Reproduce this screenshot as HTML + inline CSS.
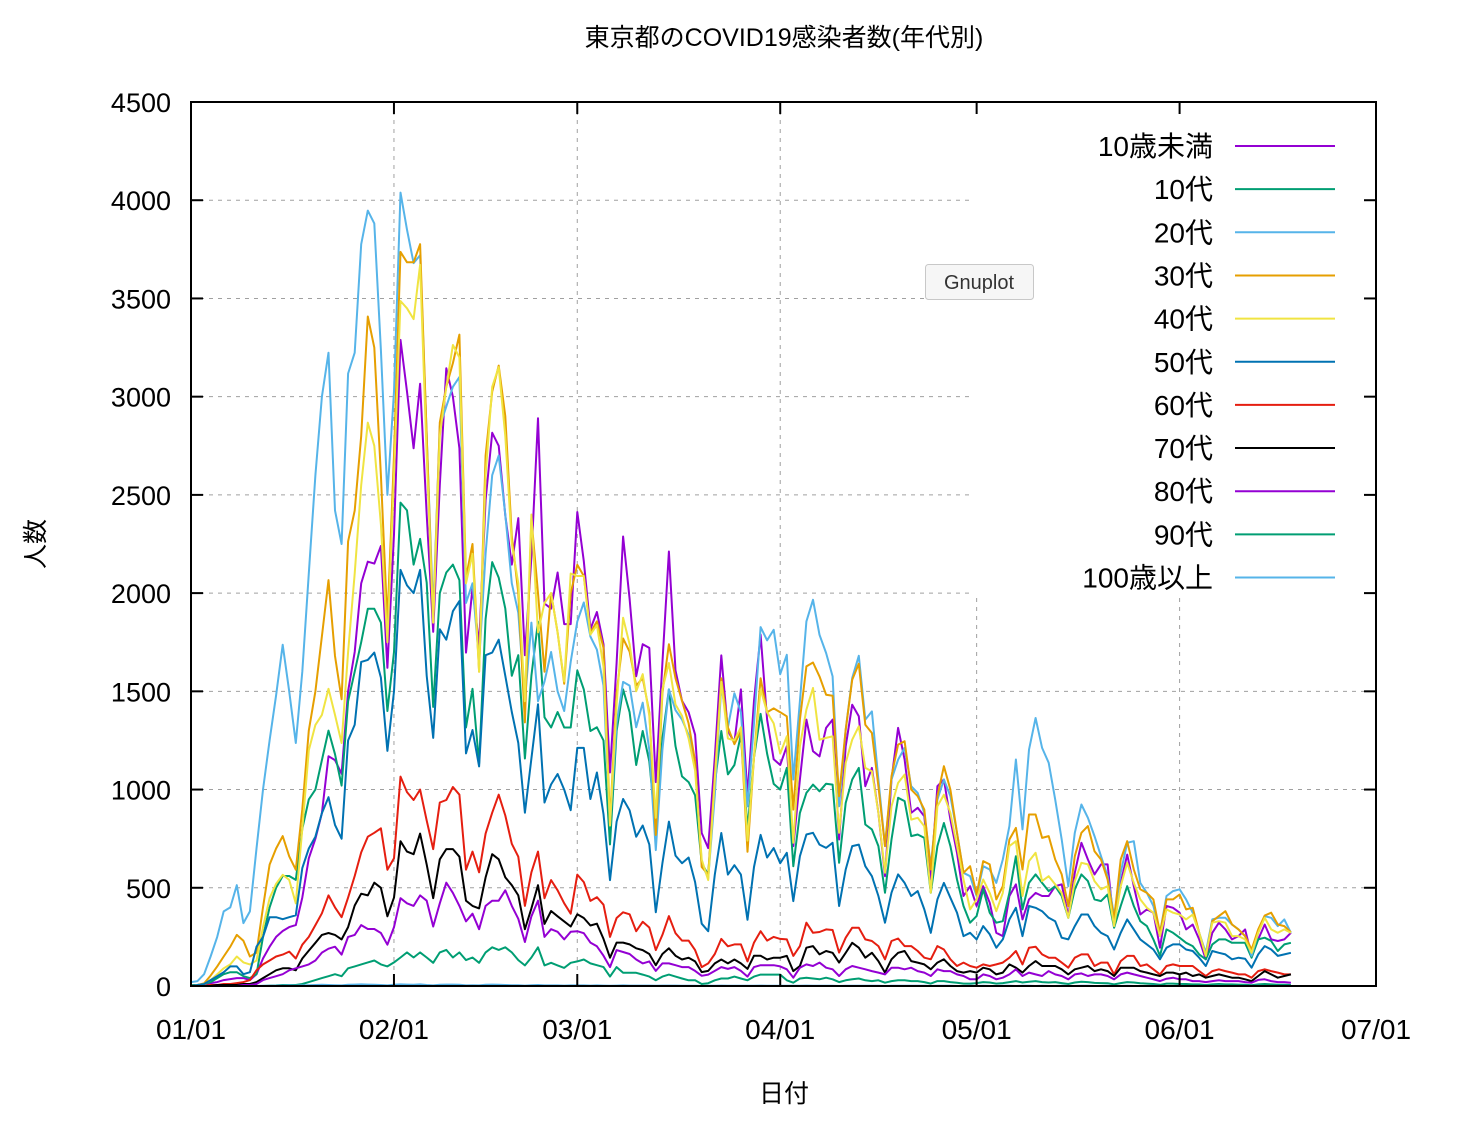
<!DOCTYPE html>
<html><head><meta charset="utf-8">
<style>
html,body{margin:0;padding:0;background:#fff;}
svg{display:block;font-family:"Liberation Sans","Noto Sans CJK JP",sans-serif;}
</style></head>
<body>
<svg id="chart" width="1462" height="1140" viewBox="0 0 1462 1140" xmlns="http://www.w3.org/2000/svg">
<rect x="0" y="0" width="1462" height="1140" fill="#fff"/>
<text x="784" y="46" font-size="25" text-anchor="middle">東京都のCOVID19感染者数(年代別)</text>
<g id="grid"></g>
<g id="series"></g>
<rect x="976" y="104" width="398" height="494" fill="#fff"/>
<g id="legend"></g>
<g id="axes"></g>
<text x="0" y="0" font-size="25" text-anchor="middle" transform="translate(44,544) rotate(-90)">人数</text>
<text x="784" y="1102" font-size="25" text-anchor="middle">日付</text>
<g>
<rect x="925.5" y="264.5" width="108" height="35" rx="3" fill="#f6f6f6" stroke="#c8c8c8"/>
<text x="979" y="289" font-size="20" text-anchor="middle" fill="#333">Gnuplot</text>
</g>
</svg>
<script>
const yTicks=[0,500,1000,1500,2000,2500,3000,3500,4000,4500];
const xTickDays=[0,31,59,90,120,151,181];
const xTickLabels=["01/01","02/01","03/01","04/01","05/01","06/01","07/01"];
const seriesNames=["10歳未満","10代","20代","30代","40代","50代","60代","70代","80代","90代","100歳以上"];
const seriesColors=["#9400d3","#009e73","#56b4e9","#e69f00","#f0e442","#0072b2","#e51e10","#000000","#9400d3","#009e73","#56b4e9"];
const s0=[5,5,10,15,20,30,35,40,40,30,60,140,200,250,280,300,310,450,650,750,880,1170,1150,1080,1500,1700,2050,2160,2150,2240,1620,2300,
3289,3026,2737,3066,2400,1803,2550,3145,3000,2737,1697,2026,1737,2474,2816,2750,2395,2145,2382,1684,2184,2890,1947,1921,2105,1842,1842,
2413,2163,1817,1904,1740,1087,1644,2288,1971,1577,1740,1721,1038,1644,2212,1606,1452,1394,1279,779,702,1164,1683,1298,1240,1510,969,1452,1789,1356,1154,1125,
1220,712,1051,1356,1195,1169,1314,1356,746,1220,1432,1373,1017,1110,881,559,1051,1314,1153,881,907,864,542,1017,1051,847,678,458,508,
407,508,424,271,254,458,517,339,441,474,458,458,508,517,356,576,729,644,568,619,619,305,525,669,508,364,390,373,195,407,398,373,288,313,237,136,271,322,288,237,254,288,153,237,313,237,229,237,271];
const s1=[5,5,10,20,40,60,70,70,50,40,60,250,400,500,560,560,540,800,950,1000,1150,1300,1180,1020,1450,1600,1750,1920,1920,1850,1400,1700,
2461,2421,2145,2276,2053,1421,2000,2105,2145,2066,1316,1513,1132,1868,2158,2079,1921,1579,1684,1158,1579,1855,1368,1316,1395,1316,1316,
1606,1510,1298,1317,1250,721,1298,1510,1394,1125,1298,1144,798,1260,1510,1221,1067,1038,971,625,567,1029,1298,1077,1125,1279,798,1164,1385,1183,1029,1000,
1110,610,881,983,1025,991,1030,1025,627,932,1051,1110,822,797,712,475,746,958,941,763,771,754,475,712,830,712,542,407,322,
356,492,373,322,330,474,661,390,525,568,525,483,508,458,347,492,568,534,441,432,466,297,407,508,407,330,305,237,153,288,271,246,220,203,161,136,212,237,237,220,220,220,144,237,246,229,178,212,220];
const s2=[20,25,60,150,250,380,400,513,320,380,700,1000,1250,1480,1737,1500,1237,1600,2100,2600,3000,3224,2421,2250,3118,3224,3776,3947,3882,3237,2500,3026,
4039,3850,3680,3720,2800,1900,2850,2950,3050,3100,1950,2050,1650,2200,2600,2700,2400,2050,1900,1450,1850,1450,1550,1700,1500,1400,1650,
1856,1952,1779,1712,1529,817,1337,1548,1529,1317,1442,1202,692,1202,1510,1404,1356,1279,1144,625,548,971,1529,1317,1490,1394,914,1337,1827,1760,1813,1587,
1686,1051,1450,1856,1966,1788,1695,1576,915,1305,1568,1681,1356,1398,1051,712,1051,1152,1212,1017,983,881,610,949,1051,966,780,576,559,
458,610,593,525,644,814,1153,797,1203,1364,1212,1136,949,746,508,780,924,856,763,661,559,356,576,729,737,525,474,407,271,458,483,492,441,373,271,169,339,347,347,313,288,254,153,271,356,347,305,339,271];
const s3=[0,5,13,53,100,150,200,260,230,150,170,400,618,700,763,660,592,900,1300,1500,1780,2066,1680,1460,2263,2420,2800,3408,3250,2600,1850,2700,
3737,3684,3684,3776,2800,1850,2868,3050,3171,3316,2079,2250,1600,2700,3026,3158,2900,2289,2000,1342,2380,2000,1600,2000,1800,1539,2000,
2144,2087,1798,1856,1721,837,1490,1769,1702,1529,1567,1394,769,1490,1740,1567,1452,1337,1144,606,567,1067,1567,1317,1231,1298,683,1164,1567,1394,1413,1394,
1373,898,1356,1627,1647,1576,1483,1478,966,1305,1559,1640,1330,1288,1017,712,1068,1229,1246,1000,966,898,593,966,1119,1000,780,576,610,
466,636,619,441,508,746,805,593,873,873,754,763,644,568,407,661,780,814,686,644,542,339,644,737,593,492,474,441,271,441,441,466,390,398,271,153,330,356,381,313,288,254,186,288,359,373,313,305,274];
const s4=[0,5,10,30,60,90,110,150,120,110,130,300,447,520,566,540,421,800,1200,1329,1380,1513,1380,1237,1700,2100,2550,2868,2750,2350,1750,2600,
3487,3450,3395,3671,2700,1850,2800,3050,3263,3200,2050,2200,1600,2600,3050,3150,2800,2250,2050,1450,2400,1800,1950,2000,1800,1550,2100,
2087,2087,1789,1837,1625,817,1433,1875,1740,1500,1587,1375,856,1510,1644,1433,1375,1260,1096,644,539,1048,1548,1260,1250,1317,740,1164,1510,1394,1337,1183,
1271,729,1220,1407,1517,1254,1263,1271,780,1136,1254,1322,1110,1093,881,576,915,1034,1076,847,856,813,475,915,974,881,712,542,390,
441,542,474,381,474,712,737,458,636,678,534,559,517,474,347,534,627,619,534,492,508,305,508,627,525,441,398,373,254,390,373,364,339,364,271,153,322,330,322,254,254,237,169,271,347,288,271,288,271];
const s5=[0,5,10,30,50,70,100,100,60,70,200,250,350,350,340,350,360,600,700,760,880,961,820,750,1250,1330,1650,1660,1697,1570,1197,1500,
2118,2039,2000,2118,1579,1263,1816,1763,1908,1960,1184,1303,1118,1684,1697,1763,1579,1395,1237,882,1158,1434,934,1026,1079,1000,895,
1212,1212,952,1087,875,539,837,952,894,760,817,721,375,625,837,664,625,654,529,317,279,567,779,567,615,567,337,606,769,654,702,625,
678,432,661,771,780,720,703,729,407,593,712,720,610,559,458,322,475,568,525,458,483,390,271,441,525,449,373,254,271,
237,305,263,195,237,339,398,254,407,398,381,347,330,246,237,305,364,364,305,271,254,186,271,339,288,237,212,186,136,195,212,212,186,178,144,102,178,169,161,136,144,139,93,161,203,186,153,161,169];
const s6=[0,0,0,5,5,10,10,15,20,30,80,110,130,150,160,175,140,210,250,310,370,461,400,350,450,560,680,760,780,803,592,650,
1066,987,947,1000,842,697,934,947,1013,974,592,684,579,776,882,974,868,724,658,408,579,684,447,539,487,421,368,
567,529,433,452,414,250,346,375,365,279,327,298,183,260,356,269,231,231,183,96,115,163,240,202,212,212,125,221,279,231,250,240,
237,153,203,322,271,275,288,285,170,246,297,297,237,229,203,136,229,242,203,203,178,144,136,203,186,136,102,119,102,
93,110,102,110,119,144,178,110,195,200,161,144,144,119,93,144,161,161,102,119,119,59,127,153,153,102,110,85,59,102,110,102,102,102,76,51,76,85,76,68,59,59,42,76,85,76,68,59,59];
const s7=[0,0,0,0,5,5,5,5,10,10,20,40,60,80,90,90,80,140,180,220,260,270,260,237,300,410,470,461,526,500,355,450,
737,684,671,776,618,447,645,697,697,658,434,408,395,553,671,645,553,513,461,289,395,513,316,382,355,329,303,
365,346,308,317,240,144,221,221,212,192,183,163,106,163,192,154,135,144,125,71,77,115,135,115,135,115,87,154,154,135,144,144,
153,76,102,195,203,161,178,169,119,169,220,195,144,169,127,68,136,169,178,127,119,110,85,119,136,102,76,68,76,
68,93,85,59,68,110,93,68,102,127,102,102,102,85,59,85,93,102,76,85,76,51,93,93,93,76,68,59,51,68,68,59,68,51,59,42,51,59,51,42,42,34,25,51,76,59,42,51,59];
const s8=[0,0,0,0,0,0,0,0,5,5,10,30,40,50,60,80,90,100,110,130,170,190,200,160,250,260,310,290,290,270,210,300,
447,421,408,461,434,303,421,526,474,408,329,368,289,408,434,434,487,408,342,224,355,434,250,289,276,237,276,
279,269,221,202,154,96,183,173,163,135,115,125,77,115,115,106,96,96,77,52,58,77,96,87,96,77,48,96,106,106,106,100,
85,42,93,110,102,119,93,85,51,85,102,93,85,76,68,59,93,93,85,93,76,68,51,85,76,76,59,51,34,
34,59,51,34,42,59,85,51,68,59,51,76,59,51,34,59,64,51,59,59,51,34,59,68,59,51,42,34,25,37,42,34,34,25,25,20,25,29,25,25,25,20,17,31,34,25,20,20,17];
const s9=[0,0,0,0,0,0,0,0,0,0,0,0,2,3,5,5,5,10,20,30,40,50,60,50,90,100,110,120,130,110,100,120,
145,171,145,171,145,118,171,184,145,171,132,145,118,171,197,184,197,171,132,105,145,197,105,118,105,92,118,
125,135,115,106,96,48,96,67,67,67,58,48,29,48,58,48,38,29,29,10,14,29,38,38,48,38,29,48,58,58,58,58,
29,17,38,42,38,34,42,34,20,29,34,38,29,25,29,17,25,29,29,25,25,20,12,25,25,20,17,12,12,
15,20,18,12,15,20,25,18,22,25,20,18,20,15,10,18,22,20,16,15,14,8,15,20,18,14,12,10,6,12,12,10,10,8,8,5,8,10,8,8,7,6,4,8,10,8,6,6,5];
const s10=[0,0,0,0,0,0,0,0,0,0,0,1,1,2,2,3,2,3,4,5,6,5,4,3,6,7,8,7,6,5,3,6,
8,7,6,8,5,3,6,7,7,6,3,4,3,6,7,6,5,4,4,2,4,5,3,3,3,2,3,
3,3,2,3,2,1,2,3,2,2,2,2,1,2,2,2,1,1,1,0,1,1,2,1,1,1,1,1,2,1,1,1,
1,1,1,2,1,1,1,1,0,1,1,1,1,1,1,0,1,1,1,1,1,1,0,1,1,1,0,0,1,
0,1,0,0,1,1,0,1,1,0,1,0,0,1,0,0,1,1,0,0,1,0,0,1,0,0,0,1,0,0,0,1,0,0,0,0,0,1,0,0,0,0,0,1,0,0,0,0,0];
const seriesValues=[s0,s1,s2,s3,s4,s5,s6,s7,s8,s9,s10];

const NS="http://www.w3.org/2000/svg";
const PL=191,PR=1376,PT=102,PB=986,DAYS=181,YMAX=4500;
function xScale(d){return PL+(PR-PL)*d/DAYS;}
function yScale(v){return PB-(PB-PT)*v/YMAX;}
function mk(tag,attrs,parent){const e=document.createElementNS(NS,tag);for(const k in attrs)e.setAttribute(k,attrs[k]);parent.appendChild(e);return e;}

const grid=document.getElementById('grid');
yTicks.forEach(function(v){
  if(v===0||v===YMAX)return;
  const y=yScale(v);
  const x2=v>=2000?974:PR;
  const l=mk('line',{x1:PL,y1:y,x2:x2,y2:y,stroke:'#a0a0a0','stroke-width':1,'stroke-dasharray':'4,5'},grid);
  
  
});
xTickDays.forEach(function(d){
  if(d===0||d===DAYS)return;
  const x=xScale(d);
  const y1=x>970?598:PT;
  const l=mk('line',{x1:x,y1:y1,x2:x,y2:PB,stroke:'#a0a0a0','stroke-width':1,'stroke-dasharray':'4,5'},grid);
  
  
});

const sg=document.getElementById('series');
seriesValues.forEach(function(vals,i){
  const pts=vals.map(function(v,d){return xScale(d).toFixed(1)+','+yScale(v).toFixed(1);}).join(' ');
  const p=mk('polyline',{points:pts,fill:'none',stroke:seriesColors[i],'stroke-width':2,'stroke-linejoin':'round'},sg);
  
  
});

const lg=document.getElementById('legend');
seriesNames.forEach(function(n,i){
  const y=146+i*43.15;
  const t=mk('text',{x:1213,y:y+10,'font-size':28,'text-anchor':'end'},lg);
  t.textContent=n;
  
  
  const l=mk('line',{x1:1235,y1:y,x2:1335,y2:y,stroke:seriesColors[i],'stroke-width':2},lg);
  
  
});

const ax=document.getElementById('axes');
const frame=mk('rect',{x:PL,y:PT,width:PR-PL,height:PB-PT,fill:'none',stroke:'#000','stroke-width':2},ax);


yTicks.forEach(function(v){
  const y=yScale(v);
  mk('line',{x1:PL,y1:y,x2:PL+12,y2:y,stroke:'#000','stroke-width':2},ax);
  mk('line',{x1:PR-12,y1:y,x2:PR,y2:y,stroke:'#000','stroke-width':2},ax);
  const t=mk('text',{x:171,y:y+10,'font-size':27,'text-anchor':'end'},ax);
  t.textContent=String(v);
  
  
});
xTickDays.forEach(function(d,i){
  const x=xScale(d);
  mk('line',{x1:x,y1:PB,x2:x,y2:PB-12,stroke:'#000','stroke-width':2},ax);
  mk('line',{x1:x,y1:PT,x2:x,y2:PT+12,stroke:'#000','stroke-width':2},ax);
  const t=mk('text',{x:x,y:1039,'font-size':28,'text-anchor':'middle'},ax);
  t.textContent=xTickLabels[i];
  
  
});
</script>
</body></html>
